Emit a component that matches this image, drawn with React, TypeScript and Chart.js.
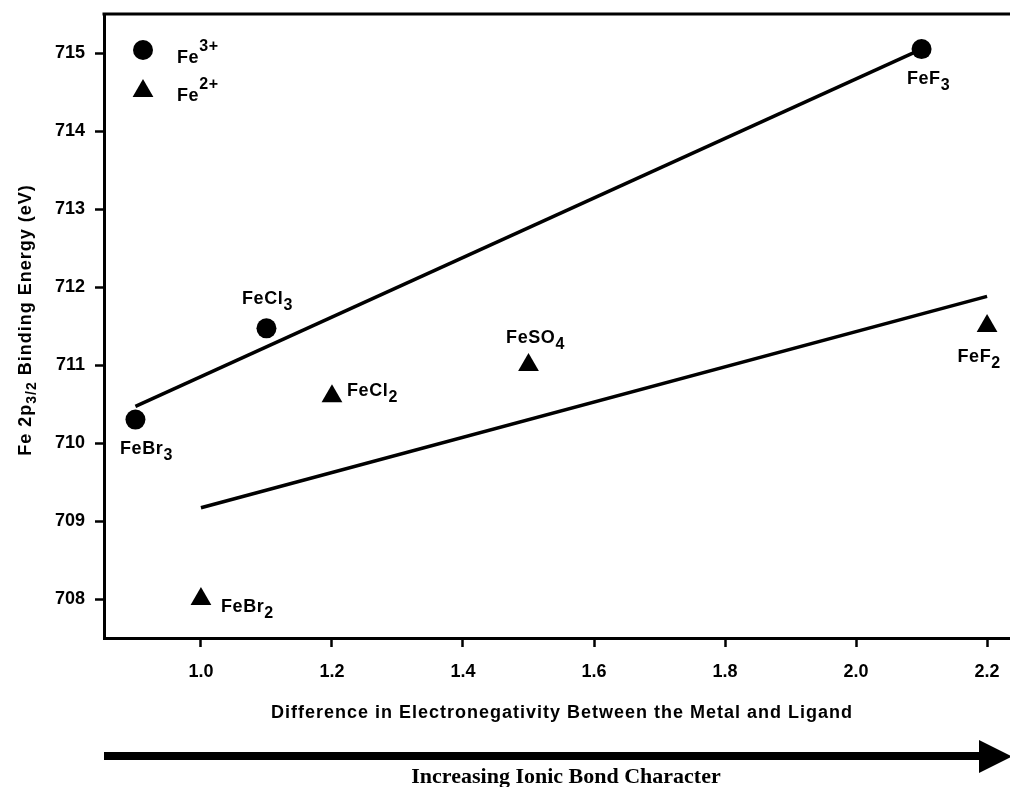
import React, { useEffect, useRef } from "react";
import { Chart, registerables } from "chart.js";

Chart.register(...registerables);

// ---- data ----
const fe3X = [0.9, 1.1, 2.1];
const fe3Y = [710.3, 711.47, 715.05];
const fe3Names = ["FeBr_3", "FeCl_3", "FeF_3"];

const fe2X = [1.0, 1.2, 1.5, 2.2];
const fe2Y = [708.0, 710.6, 711.0, 711.5];
const fe2Names = ["FeBr_2", "FeCl_2", "FeSO_4", "FeF_2"];

const fit3X = [0.9, 2.1];
const fit3Y = [710.47, 715.05];
const fit2X = [1.0, 2.2];
const fit2Y = [709.17, 711.88];

const xTicks = [1.0, 1.2, 1.4, 1.6, 1.8, 2.0, 2.2];
const yTicks = [708, 709, 710, 711, 712, 713, 714, 715];

const legendLabels = ["Fe^3+", "Fe^2+"];
const xTitle = "Difference in Electronegativity Between the Metal and Ligand";
const yTitle = "Fe 2p_3/2 Binding Energy (eV)";
const arrowText = "Increasing Ionic Bond Character";

// ---- label placement styles (pixel offsets from the point) ----
const fe3LabelPos = [
  { dx: 11, dy: 34, align: "center" },
  { dx: 1, dy: -24, align: "center" },
  { dx: 7, dy: 35, align: "center" },
];
const fe2LabelPos = [
  { dx: 20, dy: 13, align: "left" },
  { dx: 15, dy: 0, align: "left" },
  { dx: 7, dy: -22, align: "center" },
  { dx: -8, dy: 36, align: "center" },
];

const SANS = '"Liberation Sans", Arial, Helvetica, sans-serif';
const SERIF = '"Liberation Serif", "Times New Roman", serif';

type Seg = { t: string; s?: "sub" | "sup" };

function parseRich(str: string): Seg[] {
  if (str.includes("_")) {
    const [a, b] = str.split("_");
    const m = b.match(/^([^ ]*)(.*)$/) || [b, b, ""];
    const segs: Seg[] = [{ t: a }, { t: m[1], s: "sub" }];
    if (m[2]) segs.push({ t: m[2] });
    return segs;
  }
  if (str.includes("^")) {
    const [a, b] = str.split("^");
    return [{ t: a }, { t: b, s: "sup" }];
  }
  return [{ t: str }];
}

function drawRich(
  ctx: CanvasRenderingContext2D,
  str: string,
  x: number,
  y: number,
  align: string,
  size: number,
  spacing = 0.6,
  subScale = 0.9,
  subDy = 6,
  supDy = -12
) {
  const segs = parseRich(str);
  const main = `bold ${size}px ${SANS}`;
  const small = `bold ${Math.round(size * subScale)}px ${SANS}`;
  (ctx as any).letterSpacing = `${spacing}px`;
  let w = 0;
  for (const s of segs) {
    ctx.font = s.s ? small : main;
    w += ctx.measureText(s.t).width;
  }
  let cx = align === "center" ? x - w / 2 : align === "right" ? x - w : x;
  ctx.textAlign = "left";
  ctx.textBaseline = "alphabetic";
  for (const s of segs) {
    ctx.font = s.s ? small : main;
    const dy = s.s === "sub" ? subDy : s.s === "sup" ? supDy : 0;
    ctx.fillText(s.t, cx, y + dy);
    cx += ctx.measureText(s.t).width;
  }
  (ctx as any).letterSpacing = "0px";
}

function drawTri(ctx: CanvasRenderingContext2D, x: number, y: number, r: number) {
  ctx.beginPath();
  ctx.moveTo(x, y - r);
  ctx.lineTo(x + r * 0.866, y + r / 2);
  ctx.lineTo(x - r * 0.866, y + r / 2);
  ctx.closePath();
  ctx.fill();
}

const decorPlugin = {
  id: "decor",
  afterDraw(chart: any) {
    const ctx: CanvasRenderingContext2D = chart.ctx;
    const { left, top } = chart.chartArea;
    ctx.save();
    ctx.fillStyle = "#000";
    ctx.strokeStyle = "#000";

    // top border
    ctx.lineWidth = 3;
    ctx.beginPath();
    ctx.moveTo(left - 1.5, top);
    ctx.lineTo(chart.width, top);
    ctx.stroke();

    // point labels
    const m3 = chart.getDatasetMeta(0);
    m3.data.forEach((el: any, i: number) => {
      const p = fe3LabelPos[i];
      drawRich(ctx, fe3Names[i], el.x + p.dx, el.y + p.dy, p.align, 18);
    });
    const m2 = chart.getDatasetMeta(1);
    m2.data.forEach((el: any, i: number) => {
      const p = fe2LabelPos[i];
      drawRich(ctx, fe2Names[i], el.x + p.dx, el.y + p.dy, p.align, 18);
    });

    // legend
    ctx.beginPath();
    ctx.arc(143, 50, 10, 0, Math.PI * 2);
    ctx.fill();
    drawTri(ctx, 143, 91, 12);
    drawRich(ctx, legendLabels[0], 177, 63, "left", 18);
    drawRich(ctx, legendLabels[1], 177, 101, "left", 18);

    // x title
    drawRich(ctx, xTitle, 562, 718, "center", 18, 1);

    // y title (rotated)
    ctx.save();
    ctx.translate(31, 320);
    ctx.rotate(-Math.PI / 2);
    drawRich(ctx, yTitle, 0, 0, "center", 18, 1, 0.8, 5);
    ctx.restore();

    // arrow
    ctx.fillRect(104, 752, 878, 8);
    ctx.beginPath();
    ctx.moveTo(979, 740);
    ctx.lineTo(1012, 756.5);
    ctx.lineTo(979, 773);
    ctx.closePath();
    ctx.fill();

    ctx.font = `bold 22px ${SERIF}`;
    ctx.textAlign = "center";
    ctx.textBaseline = "alphabetic";
    ctx.fillText(arrowText, 566, 783);

    ctx.restore();
  },
};

export default function App() {
  const ref = useRef<HTMLCanvasElement | null>(null);

  useEffect(() => {
    if (!ref.current) return;
    const chart = new Chart(ref.current, {
      type: "scatter",
      data: {
        datasets: [
          {
            label: "Fe3+",
            data: fe3X.map((x, i) => ({ x, y: fe3Y[i] })),
            pointStyle: "circle",
            pointRadius: 10,
            backgroundColor: "#000",
            borderColor: "#000",
            borderWidth: 0,
            clip: false,
          },
          {
            label: "Fe2+",
            data: fe2X.map((x, i) => ({ x, y: fe2Y[i] })),
            pointStyle: "triangle",
            pointRadius: 12,
            backgroundColor: "#000",
            borderColor: "#000",
            borderWidth: 0,
            clip: false,
          },
          {
            label: "fit3",
            type: "line",
            data: fit3X.map((x, i) => ({ x, y: fit3Y[i] })),
            showLine: true,
            pointRadius: 0,
            borderColor: "#000",
            borderWidth: 3.5,
            fill: false,
          },
          {
            label: "fit2",
            type: "line",
            data: fit2X.map((x, i) => ({ x, y: fit2Y[i] })),
            showLine: true,
            pointRadius: 0,
            borderColor: "#000",
            borderWidth: 3.5,
            fill: false,
          },
        ] as any,
      },
      options: {
        animation: false,
        responsive: true,
        maintainAspectRatio: false,
        layout: {
          autoPadding: false,
          padding: { top: 14, right: 0, left: 0, bottom: 0 },
        },
        plugins: {
          legend: { display: false },
          tooltip: { enabled: false },
          title: { display: false },
        },
        scales: {
          x: {
            type: "linear",
            min: 0.852,
            max: 2.235,
            afterFit: (s: any) => {
              s.height = 149;
              s.paddingLeft = 0;
              s.paddingRight = 0;
            },
            afterBuildTicks: (s: any) => {
              s.ticks = xTicks.map((v) => ({ value: v }));
            },
            grid: {
              drawOnChartArea: false,
              drawTicks: true,
              tickLength: 9,
              tickWidth: 2.5,
              tickColor: "#000",
              color: "#000",
            },
            border: { display: true, color: "#000", width: 3 },
            ticks: {
              color: "#000",
              padding: 14,
              font: { family: SANS, size: 18, weight: "bold" },
              callback: (v: any) => Number(v).toFixed(1),
            },
          },
          y: {
            type: "linear",
            min: 707.5,
            max: 715.5,
            afterFit: (s: any) => {
              s.width = 104;
              s.paddingTop = 0;
              s.paddingBottom = 0;
            },
            afterBuildTicks: (s: any) => {
              s.ticks = yTicks.map((v) => ({ value: v }));
            },
            grid: {
              drawOnChartArea: false,
              drawTicks: true,
              tickLength: 9,
              tickWidth: 2.5,
              tickColor: "#000",
              color: "#000",
            },
            border: { display: true, color: "#000", width: 3 },
            ticks: {
              color: "#000",
              padding: 10,
              font: { family: SANS, size: 18, weight: "bold" },
              callback: (v: any) => String(v),
            },
          },
        },
      } as any,
      plugins: [decorPlugin],
    });
    return () => chart.destroy();
  }, []);

  return (
    <div
      style={{
        position: "fixed",
        left: 0,
        top: 0,
        width: 1010,
        height: 787,
        background: "#fff",
      }}
    >
      <canvas ref={ref} />
    </div>
  );
}
